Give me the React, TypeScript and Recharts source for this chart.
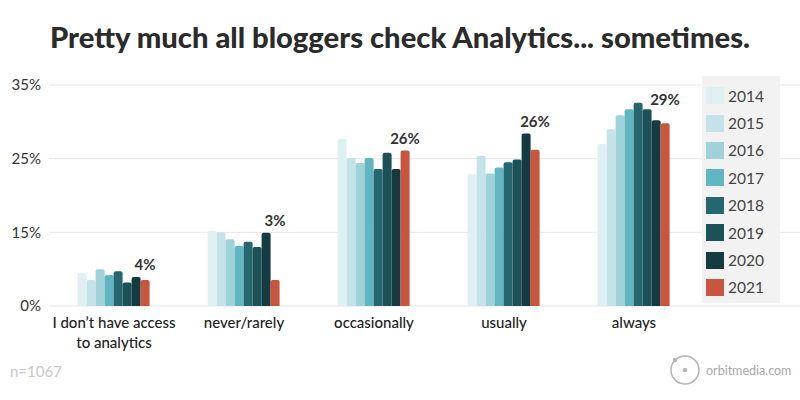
import React from 'react';
import { ComposedChart, Bar, XAxis, YAxis, CartesianGrid, Legend, ReferenceDot } from 'recharts';

const categories = ['I don’t have access\nto analytics', 'never/rarely', 'occasionally', 'usually', 'always'];
const years = ['2014', '2015', '2016', '2017', '2018', '2019', '2020', '2021'];
const v2014 = [6.7, 15.2, 27.7, 22.9, 27.0];
const v2015 = [5.3, 15.0, 25.1, 25.4, 29.0];
const v2016 = [7.5, 13.6, 24.4, 23.0, 30.9];
const v2017 = [6.3, 12.2, 25.1, 23.8, 31.7];
const v2018 = [7.1, 13.1, 23.6, 24.5, 32.6];
const v2019 = [4.8, 12.0, 25.8, 24.9, 31.7];
const v2020 = [5.9, 14.9, 23.6, 28.4, 30.2];
const v2021 = [5.3, 5.3, 26.1, 26.2, 29.8];
const seriesValues = [v2014, v2015, v2016, v2017, v2018, v2019, v2020, v2021];
const calloutText = ['4%', '3%', '26%', '26%', '29%'];
const calloutPos = [8.5, 16.6, 27.7, 30.0, 33.0];
const tickValues = [0, 15, 25, 35];
const tickLabels = ['0%', '15%', '25%', '35%'];

const colors = ['#dff0f3', '#c3e3e8', '#a0d2d9', '#62b6c1', '#25666f', '#1c5158', '#143b41', '#c8553d'];
const FONT = 'Lato, "Open Sans", sans-serif';

// axis is piecewise: 0-15, 15-25, 25-35 each occupy the same height
const toAxis = (v: number) => {
  if (v <= 15) return v / 15;
  if (v <= 25) return 1 + (v - 15) / 10;
  return 2 + (v - 25) / 10;
};

const data = categories.map((c, i) => {
  const row: any = { category: c };
  years.forEach((y, k) => {
    row[y] = toAxis(seriesValues[k][i]);
  });
  return row;
});

const CatTick = (props: any) => {
  const { x, y, payload } = props;
  const lines = String(payload.value).split('\n');
  return (
    <text x={x} y={y} textAnchor="middle" fill="#222" fontSize={15} fontFamily={FONT} fontWeight={500}>
      {lines.map((l, i) => (
        <tspan key={i} x={x} dy={i === 0 ? 22 : 20}>{l}</tspan>
      ))}
    </text>
  );
};

const renderCallout = (p: any) => {
  const vb = p.viewBox || {};
  const cx = (vb.x || 0) + (vb.width || 0) / 2 + 31;
  const cy = (vb.y || 0) + (vb.height || 0) / 2;
  return (
    <text x={cx} y={cy} dy="0.36em" textAnchor="middle" fill="#333" fontSize={15} fontWeight={700} fontFamily={FONT}>
      {p.value}
    </text>
  );
};

const renderLegend = (props: any) => {
  const { payload } = props;
  return (
    <div style={{ width: 78, height: 227, background: '#f2f2f2', paddingTop: 6, boxSizing: 'border-box' }}>
      {(payload || []).map((e: any, i: number) => (
        <div key={i} style={{ display: 'flex', alignItems: 'center', height: 27.4 }}>
          <div style={{ width: 18, height: 17, background: e.color, marginLeft: 4, marginRight: 4 }} />
          <span style={{ fontFamily: FONT, fontSize: 15.5, color: '#444' }}>{e.value}</span>
        </div>
      ))}
    </div>
  );
};

export default function App() {
  return (
    <div style={{ position: 'absolute', left: 0, top: 0, width: 800, height: 400, background: '#fff' }}>
      <ComposedChart
        width={800}
        height={400}
        data={data}
        margin={{ top: 85, right: 0, left: 0, bottom: 64 }}
        barCategoryGap="22%"
        barGap={0}
      >
        <CartesianGrid horizontal vertical={false} stroke="#e6e6e6" />
        <XAxis
          dataKey="category"
          height={30}
          axisLine={false}
          tickLine={false}
          tickSize={0}
          tickMargin={0}
          interval={0}
          padding={{ left: 0, right: 101 }}
          tick={<CatTick />}
        />
        <YAxis
          width={49}
          domain={[0, 3]}
          ticks={tickValues.map(toAxis)}
          tickFormatter={(v: number) => tickLabels[tickValues.map(toAxis).indexOf(v)] ?? ''}
          axisLine={false}
          tickLine={false}
          tick={{ fill: '#333', fontSize: 15, fontFamily: FONT }}
        />
        <Legend
          layout="vertical"
          align="center"
          verticalAlign="middle"
          content={renderLegend}
          wrapperStyle={{ left: 702, top: 76, width: 78, height: 227 }}
        />
        {years.map((y, k) => (
          <Bar key={y} dataKey={y} name={y} fill={colors[k]} radius={[2, 2, 0, 0]} isAnimationActive={false} />
        ))}
        {categories.map((c, i) => (
          <ReferenceDot
            key={c}
            x={c}
            y={toAxis(calloutPos[i])}
            r={0}
            fill="none"
            stroke="none"
            label={{ value: calloutText[i], content: renderCallout }}
          />
        ))}
      </ComposedChart>
      <svg width={800} height={400} style={{ position: 'absolute', left: 0, top: 0, pointerEvents: 'none' }}>
        <text x={400} y={48} textAnchor="middle" fill="#2b2b2b" fontSize={29} fontWeight={900} fontFamily={FONT} textLength={700} lengthAdjust="spacingAndGlyphs">
          Pretty much all bloggers check Analytics... sometimes.
        </text>
        <text x={10} y={377} fill="#c8c8c8" fontSize={15} fontFamily={FONT}>n=1067</text>
        <circle cx={685} cy={370} r={14} fill="none" stroke="#b5b5b5" strokeWidth={1.5} />
        <circle cx={685} cy={370} r={2.2} fill="#b5b5b5" />
        <circle cx={675} cy={360} r={2.2} fill="#b5b5b5" />
        <text x={706} y={375} fill="#a8a8a8" fontSize={12.5} fontFamily={FONT}>orbitmedia.com</text>
      </svg>
    </div>
  );
}
